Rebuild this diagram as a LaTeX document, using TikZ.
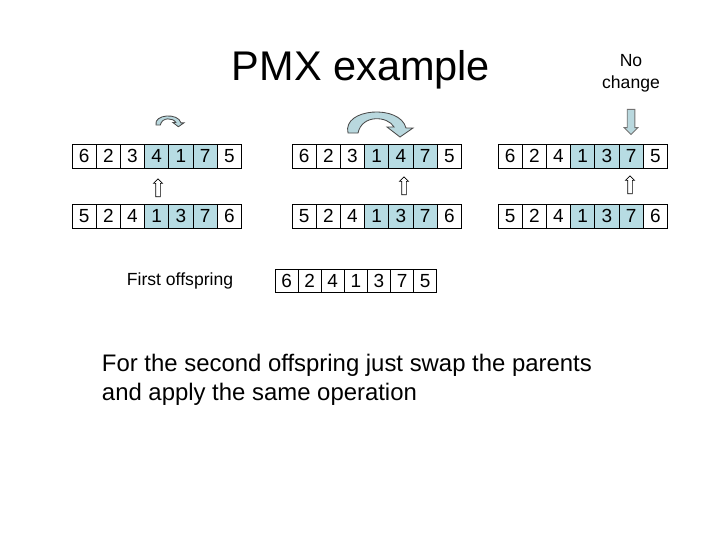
\documentclass[tikz,border=0pt]{standalone}
\usepackage{fontspec}
\setmainfont{Liberation Sans}
\usetikzlibrary{shapes.arrows,backgrounds}
\definecolor{cellhl}{HTML}{B7DCE3}
\definecolor{swapfill}{HTML}{B9D8DE}
\definecolor{swapline}{HTML}{4A4A4A}

\tikzset{
  swaparrow/.pic={
    \filldraw[fill=swapfill,draw=swapline,line width=0.6pt]
      (0,0) .. controls (-6,-25) and (52,-29) .. (58,-5)
      -- (65,-5) -- (52,4) -- (39,-6) -- (46,-6)
      .. controls (40,-17) and (14,-19) .. (10,0) -- cycle;
  }
}

\begin{document}
\begin{tikzpicture}[x=0.025cm,y=-0.025cm,
  cell/.style={draw,line width=0.7pt,minimum width=0.605cm,minimum height=0.6cm,inner sep=0pt,font=\fontsize{13.5}{14}\selectfont},
  uparr/.style={single arrow,draw,fill=white,line width=0.5pt,shape border rotate=90,minimum height=0.45cm,inner sep=0.05cm,single arrow head extend=0.055cm},
  downarr/.style={single arrow,draw=black!55,fill=swapfill,line width=0.6pt,shape border rotate=270,minimum height=0.625cm,inner sep=0.085cm,single arrow head extend=0.075cm},
  lbl/.style={font=\fontsize{12.5}{15.5}\selectfont,align=center}
]
  \useasboundingbox (0,0) rectangle (720,540);

  \node[font=\fontsize{29.5}{34}\selectfont] (title) at (361,70) {PMX example};
  \node[lbl] (nochg) at (631,73) {No\\change};

  % parent rows, before / after each step
  \foreach \r/\x/\y/\vals in {l1/72/156/{6,2,3,4,1,7,5}, l2/72/216/{5,2,4,1,3,7,6},
      m1/292/156/{6,2,3,1,4,7,5}, m2/292/216/{5,2,4,1,3,7,6},
      r1/498/156/{6,2,4,1,3,7,5}, r2/498/216/{5,2,4,1,3,7,6}}
    \foreach \v [count=\i] in \vals
      \node[cell] (\r-\i) at ({\x+24.2*(\i-0.5)},\y) {\v};

  % offspring
  \foreach \v [count=\i] in {6,2,4,1,3,7,5}
    \node[cell,minimum width=0.578cm,minimum height=0.56cm] (off-\i) at ({275+23.1*(\i-0.5)},281) {\v};

  \begin{scope}[on background layer]
    \foreach \r in {l1,l2,m1,m2,r1,r2}
      \fill[cellhl] (\r-4.north west) rectangle (\r-6.south east);
  \end{scope}

  \node[uparr] (upl) at (158,189) {};
  \node[uparr] (upm) at (404,187) {};
  \node[uparr] (upr) at (630,186) {};
  \node[downarr] (dnr) at (631,120) {};

  \pic[scale=0.43] at (156,125) {swaparrow};
  \pic at (348,133) {swaparrow};

  \node[lbl] (first) at (180,281) {First offspring};
  \node[anchor=west,align=left,font=\fontsize{17}{20.6}\selectfont] (note) at (97,380)
    {For the second offspring just swap the parents\\and apply the same operation};
\end{tikzpicture}
\end{document}
